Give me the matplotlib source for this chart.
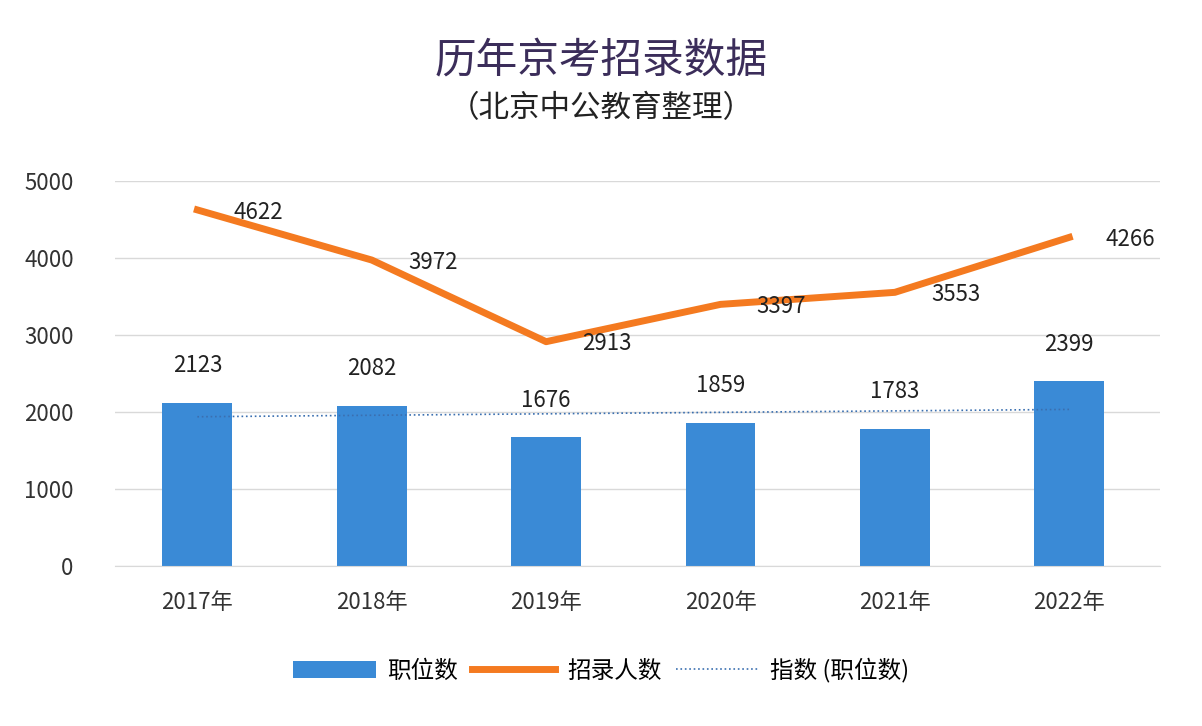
import numpy as np
import matplotlib.pyplot as plt

plt.rcParams['font.family'] = ['Noto Sans CJK SC', 'DejaVu Sans']

years = ['2017年', '2018年', '2019年', '2020年', '2021年', '2022年']
positions = [2123, 2082, 1676, 1859, 1783, 2399]
hires = [4622, 3972, 2913, 3397, 3553, 4266]

x = np.arange(len(years))
fig = plt.figure(figsize=(12.02, 7.26), dpi=100)
ax = fig.add_axes([0.096, 0.22, 0.869, 0.531])

ax.bar(x, positions, width=0.4, color='#3a8ad6', label='职位数', zorder=2)
ax.plot(x, hires, color='#f47a20', lw=5, label='招录人数', zorder=3)
k, b = np.polyfit(x, positions, 1)
ax.plot(x, k * x + b, color='#3a6fb0', lw=1.2, ls=':', label='指数 (职位数)', zorder=4)

for xi, v in zip(x, positions):
    ax.text(xi, v + 480, str(v), ha='center', va='center', fontsize=16, color='#222222')
for xi, v in zip(x, hires):
    ax.text(xi + 0.35, v - 30, str(v), ha='center', va='center', fontsize=16, color='#222222')

ax.set_xlim(-0.47, len(years) - 0.48)
ax.set_ylim(0, 5000)
ax.set_yticks(range(0, 5001, 1000))
ax.set_xticks(x)
ax.set_xticklabels(years)
ax.tick_params(length=0, labelsize=16, colors='#333333', pad=18)
ax.tick_params(axis='y', pad=30)
ax.grid(axis='y', color='#d9d9d9', lw=1, zorder=0)
for s in ax.spines.values():
    s.set_visible(False)
ax.spines['bottom'].set_visible(True)
ax.spines['bottom'].set_color('#d9d9d9')

fig.text(0.5, 0.915, '历年京考招录数据', ha='center', va='center', fontsize=30,
         color='#3b2d5a')
fig.text(0.5, 0.85, '（北京中公教育整理）', ha='center', va='center', fontsize=22, color='#222222')

handles, labels = ax.get_legend_handles_labels()
order = [2, 0, 1]
fig.legend([handles[i] for i in order], [labels[i] for i in order],
           loc='center', bbox_to_anchor=(0.5, 0.077), ncol=3, frameon=False,
           fontsize=17, handlelength=3.5, columnspacing=0.6, handletextpad=0.5)

fig.savefig('out.png', dpi=100)
